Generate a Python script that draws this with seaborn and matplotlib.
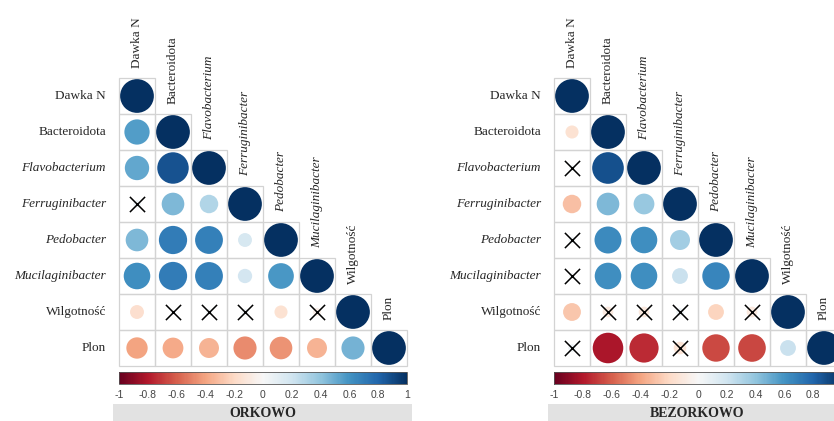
import numpy as np
import pandas as pd
import matplotlib
matplotlib.use("Agg")
import matplotlib.pyplot as plt
import seaborn as sns

# variable names (row/column labels), italic = genus names
variables = ['Dawka N', 'Bacteroidota', 'Flavobacterium', 'Ferruginibacter',
             'Pedobacter', 'Mucilaginibacter', 'Wilgotność', 'Plon']
italic = [False, False, True, True, True, True, False, False]

# lower triangle correlations (row i, columns 0..i-1), diagonal = 1
orkowo_r = [
    [],
    [0.56],
    [0.52, 0.87],
    [0.05, 0.45, 0.30],
    [0.45, 0.70, 0.68, 0.17],
    [0.62, 0.70, 0.68, 0.18, 0.58],
    [-0.17, 0.02, 0.03, 0.04, -0.15, -0.06],
    [-0.40, -0.38, -0.35, -0.47, -0.45, -0.35, 0.47],
]
# non-significant cells (row, col) -> crossed
orkowo_ns = [(3, 0), (6, 1), (6, 2), (6, 3), (6, 5)]

bezorkowo_r = [
    [],
    [-0.15],
    [0.03, 0.88],
    [-0.30, 0.45, 0.38],
    [0.04, 0.64, 0.62, 0.35],
    [0.03, 0.62, 0.62, 0.22, 0.66],
    [-0.28, -0.10, -0.10, 0.05, -0.22, -0.10],
    [0.05, -0.82, -0.75, -0.14, -0.66, -0.67, 0.22],
]
bezorkowo_ns = [(2, 0), (4, 0), (5, 0), (6, 1), (6, 2), (6, 3), (6, 5), (7, 0), (7, 3)]

cbar_ticks = [-1, -0.8, -0.6, -0.4, -0.2, 0, 0.2, 0.4, 0.6, 0.8, 1]
cbar_labels = ['-1', '-0.8', '-0.6', '-0.4', '-0.2', '0', '0.2', '0.4', '0.6', '0.8', '1']

sns.set_style("white")
plt.rcParams['font.family'] = ['Liberation Serif', 'DejaVu Serif']

W, H = 834, 421
fig = plt.figure(figsize=(W / 100, H / 100), dpi=100)

n = len(variables)
cell = 36


def panel(x0, lower, ns, title):
    #build long table from the lower triangle
    rows = []
    for i in range(n):
        for j in range(i + 1):
            r = 1.0 if i == j else lower[i][j]
            rows.append({'x': j + 0.5, 'y': i + 0.5, 'r': r, 'absr': abs(r),
                         'ns': (i, j) in ns})
    df = pd.DataFrame(rows)

    top = 78
    ax = fig.add_axes([x0 / W, (H - top - n * cell) / H, n * cell / W, n * cell / H])
    ax.set_xlim(0, n)
    ax.set_ylim(n, 0)
    ax.axis('off')

    #cell borders
    for i in range(n):
        for j in range(i + 1):
            ax.add_patch(plt.Rectangle((j, i), 1, 1, fill=False, edgecolor='#d3d3d3',
                                       lw=0.9, clip_on=False, zorder=1))

    sns.scatterplot(data=df, x='x', y='y', hue='r', palette='RdBu', hue_norm=(-1, 1),
                    size='absr', sizes=(0, 590), size_norm=(0, 1), linewidth=0,
                    legend=False, ax=ax, clip_on=False, zorder=2)
    nsdf = df[df['ns']]
    ax.scatter(nsdf['x'], nsdf['y'], marker='x', s=120, color='black', linewidths=1.1,
               clip_on=False, zorder=3)
    ax.set_xlabel('')
    ax.set_ylabel('')

    #row and column labels
    for i, name in enumerate(variables):
        style = 'italic' if italic[i] else 'normal'
        ax.text(-0.36, i + 0.5, name, ha='right', va='center', fontsize=9.5,
                style=style, clip_on=False)
        ax.text(i + 0.5, i - 0.27, name, ha='center', va='bottom', rotation=90,
                fontsize=9.5, style=style, clip_on=False)

    #colorbar
    cax = fig.add_axes([x0 / W, (H - 384) / H, n * cell / W, 12 / H])
    sm = plt.cm.ScalarMappable(cmap='RdBu', norm=plt.Normalize(-1, 1))
    cb = fig.colorbar(sm, cax=cax, orientation='horizontal')
    cb.set_ticks(cbar_ticks)
    cb.set_ticklabels(cbar_labels)
    cb.outline.set_linewidth(0.6)
    cb.outline.set_edgecolor('#555555')
    cax.tick_params(length=0, pad=4, labelsize=7.5, labelcolor='#444444')
    for t, v in zip(cax.get_xticklabels(), cbar_ticks):
        t.set_fontfamily('Liberation Sans')
        # labels that fall past the right edge of the figure are not shown
        if x0 + (v + 1) / 2 * n * cell > W - 4:
            t.set_visible(False)

    #grey title strip
    sax = fig.add_axes([(x0 - 6) / W, 0, 299 / W, 17 / H])
    sax.set_facecolor('#e2e2e2')
    sax.set_xticks([])
    sax.set_yticks([])
    for s in sax.spines.values():
        s.set_visible(False)
    sax.text(0.5, 0.42, title, ha='center', va='center', fontsize=10,
             fontweight='bold', transform=sax.transAxes)


panel(119, orkowo_r, orkowo_ns, 'ORKOWO')
panel(554, bezorkowo_r, bezorkowo_ns, 'BEZORKOWO')

fig.savefig('out.png', dpi=100)
